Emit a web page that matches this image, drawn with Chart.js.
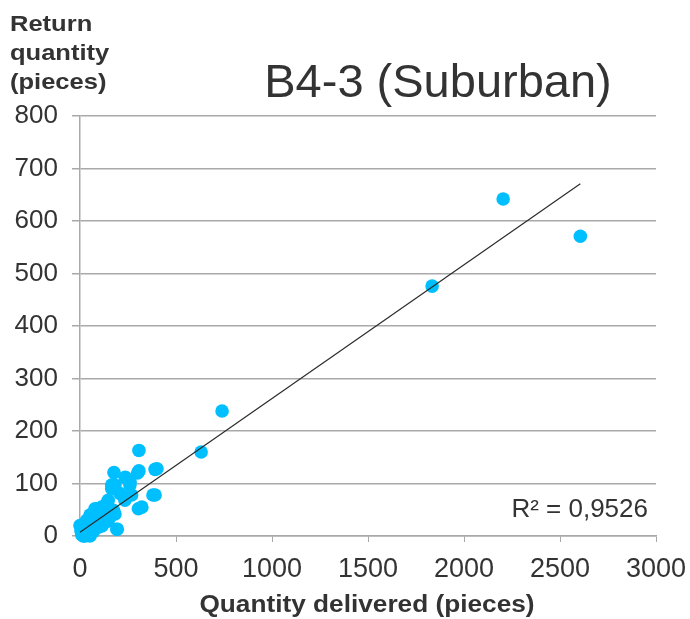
<!DOCTYPE html>
<html>
<head>
<meta charset="utf-8">
<script src="https://cdn.jsdelivr.net/npm/chart.js@4/dist/chart.umd.min.js"></script>
<style>
  body { margin: 0; background: #fff; }
  #chart { display: block; }
</style>
</head>
<body>
<canvas id="chart" width="690" height="619"></canvas>
<script>
// delivered vs returned, one entry per outlet
const delivered = [
  2204, 2606, 1834, 740, 631, 307, 177, 307, 401, 238,
  261, 165, 182, 391, 269, 304, 194, 234, 147, 113,
  174, 78, 139, 156, 52, 35, 0, 9, 69, 95,
  52, 17, 104, 208, 121, 235, 300, 391, 260, 170,
  165, 380, 322, 192, 88, 56, 30, 14, 48, 114,
  146, 182, 114, 5, 20, 30, 40, 60, 80, 10, 25, 45
]
const returned = [
  642, 571, 476, 238, 160, 163, 121, 124, 128, 111,
  103, 90, 97, 78, 78, 52, 13, 68, 68, 55,
  49, 52, 62, 36, 40, 30, 20, 5, 8, 17,
  0, 0, 30, 81, 43, 112, 120, 127, 97, 97,
  97, 78, 55, 13, 52, 40, 25, 16, 6, 19,
  28, 42, 52, 10, 5, 15, 25, 20, 20, 2, 0, 8
]

// linear trend (R² = 0,9526)
const trendX = [0, 2606]
const trendY = [7, 671]
const r2Label = 'R² = 0,9526'

const chartTitle = 'B4-3 (Suburban)'
const yTitle = ['Return', 'quantity', '(pieces)']
const xTitle = 'Quantity delivered (pieces)'

const xTicks = [0, 500, 1000, 1500, 2000, 2500, 3000]
const yTicks = [0, 100, 200, 300, 400, 500, 600, 700, 800]

const FONT = "'Liberation Sans', Arial, sans-serif"
const TEXT = '#333333'
const GRID = '#a9a9a9'

let points = []
for (let i = 0; i < delivered.length; i++) {
  points.push({x: delivered[i], y: returned[i]})
}
let trend = trendX.map((x, i) => ({x: x, y: trendY[i]}))

// draw text stretched horizontally
function drawText(ctx, txt, x, y, font, align, stretch) {
  ctx.save()
  ctx.font = font
  ctx.fillStyle = TEXT
  ctx.textBaseline = 'alphabetic'
  let w = ctx.measureText(txt).width * stretch
  let left = x
  if (align == 'center') left = x - w / 2
  if (align == 'right') left = x - w
  ctx.translate(left, y)
  ctx.scale(stretch, 1)
  ctx.textAlign = 'left'
  ctx.fillText(txt, 0, 0)
  ctx.restore()
}

const textPlugin = {
  id: 'texts',
  afterDraw(chart) {
    const ctx = chart.ctx
    drawText(ctx, chartTitle, 438, 97, '47px ' + FONT, 'center', 1)
    yTitle.forEach((line, i) => {
      drawText(ctx, line, 10, 31 + i * 29, 'bold 22px ' + FONT, 'left', 1.16)
    })
    drawText(ctx, xTitle, 367, 612, 'bold 23px ' + FONT, 'center', 1.14)
    drawText(ctx, r2Label, 648, 517, '26px ' + FONT, 'right', 1)
  }
}

new Chart(document.getElementById('chart'), {
  type: 'scatter',
  data: {
    datasets: [
      {
        label: 'trend',
        data: trend,
        showLine: true,
        borderColor: '#2b2b2b',
        borderWidth: 1.2,
        pointRadius: 0,
        clip: false
      },
      {
        label: 'outlets',
        data: points,
        backgroundColor: '#00bfff',
        borderWidth: 0,
        pointRadius: 6.8,
        pointHoverRadius: 6.8,
        clip: false
      }
    ]
  },
  options: {
    responsive: false,
    animation: false,
    devicePixelRatio: 1,
    layout: {padding: {top: 116, right: 34, left: 0, bottom: 0}},
    plugins: {
      legend: {display: false},
      tooltip: {enabled: false}
    },
    scales: {
      x: {
        type: 'linear',
        min: 0,
        max: 3000,
        afterFit: s => { s.height = 83; s.paddingLeft = 0; s.paddingRight = 0 },
        afterBuildTicks: s => { s.ticks = xTicks.map(v => ({value: v})) },
        ticks: {
          color: TEXT,
          font: {family: FONT, size: 27},
          padding: 11,
          maxRotation: 0,
          callback: v => String(v)
        },
        grid: {drawOnChartArea: false, drawTicks: true, tickLength: 6, color: GRID, lineWidth: 1},
        border: {display: true, color: GRID, width: 1.5}
      },
      y: {
        type: 'linear',
        min: 0,
        max: 800,
        afterFit: s => { s.width = 80; s.paddingTop = 0; s.paddingBottom = 0 },
        afterBuildTicks: s => { s.ticks = yTicks.map(v => ({value: v})) },
        ticks: {
          color: TEXT,
          font: {family: FONT, size: 26},
          padding: 14,
          callback: v => String(v)
        },
        grid: {color: GRID, lineWidth: 1.5, tickLength: 8},
        border: {display: true, color: GRID, width: 1.5}
      }
    }
  },
  plugins: [textPlugin]
})
</script>
</body>
</html>
